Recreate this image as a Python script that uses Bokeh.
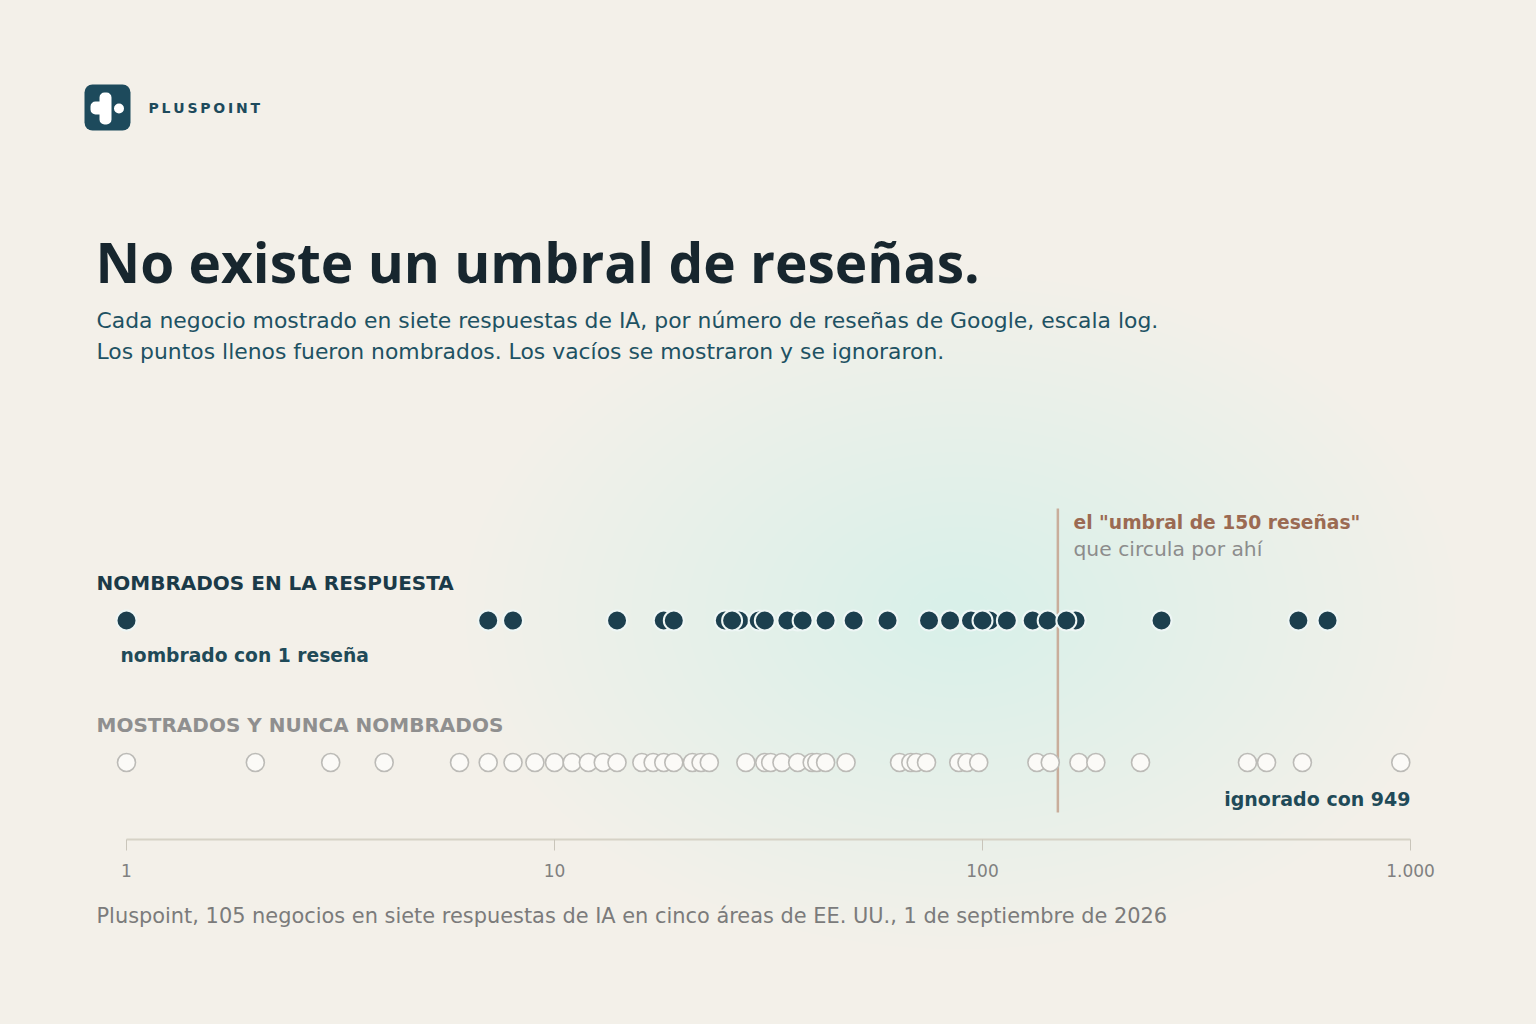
from bokeh.plotting import figure
from bokeh.models import Range1d, Label, FixedTicker, ColumnDataSource
from bokeh.embed import file_html
from bokeh.resources import INLINE

# ---------------- data ----------------
named_reviews = [1, 7, 8, 14, 18, 19, 25, 27, 26, 30, 31, 37, 35, 38, 43, 50, 60, 75, 84,
                 94, 104, 100, 114, 131, 142, 165, 157, 262, 547, 640]
ignored_reviews = [1, 2, 3, 4, 6, 7, 8, 9, 10, 11, 12, 13, 14, 16, 17, 18, 19, 21, 22, 23,
                   28, 31, 32, 34, 37, 40, 41, 43, 48, 64, 68, 70, 74, 88, 92, 98, 134, 144,
                   168, 184, 234, 416, 461, 559, 949]
threshold = 150
tick_values = [1, 10, 100, 1000]
tick_labels = ["1", "10", "100", "1.000"]
row_named = 1
row_ignored = 0

# ---------------- layout helpers (page pixels -> data) ----------------
OFF = 0
PX_ONE, PX_PER_DEC = 126, 428
ROW_NAMED_PX, ROW_IGN_PX = 620, 762
def xd(px):
    return 10 ** ((px - PX_ONE) / PX_PER_DEC)
def yd(py):
    return (ROW_IGN_PX - py) / (ROW_IGN_PX - ROW_NAMED_PX)

BG = "#f3f0e9"
TEAL = "#1c3f4e"
FONT = "DejaVu Sans"
TFONT = "Open Sans"

FW, FH = 1536, 970
p = figure(frame_width=FW, frame_height=FH, x_axis_type="log",
           x_range=Range1d(xd(OFF), xd(OFF + FW)), y_range=Range1d(yd(OFF + FH), yd(OFF)),
           output_backend="svg", toolbar_location=None, y_axis_location=None,
           min_border=0, background_fill_color=BG, border_fill_color=BG,
           outline_line_color=None)
p.grid.visible = False

# ---------------- glow ----------------
n = 26
gw = [960 * (1 - i / n) + 30 for i in range(n)]
gh = [w * 0.68 for w in gw]
glow = ColumnDataSource(dict(x=[xd(960)] * n, y=[yd(612)] * n, w=gw, h=gh))
p.ellipse(x="x", y="y", width="w", height="h", width_units="screen", height_units="screen",
          source=glow, fill_color="#c4e0e0", fill_alpha=0.016, line_color=None)

# ---------------- axis ----------------
ax = p.xaxis[0]
ax.fixed_location = yd(839)
ax.bounds = (tick_values[0], tick_values[-1])
ax.ticker = FixedTicker(ticks=tick_values, minor_ticks=[])
ax.major_label_overrides = dict(zip(tick_values, tick_labels))
ax.axis_line_color = "#d6d2c6"
ax.axis_line_width = 2
ax.major_tick_line_color = "#c9c5ba"
ax.major_tick_line_width = 1
ax.major_tick_in = 0
ax.major_tick_out = 11
ax.minor_tick_line_color = None
ax.major_label_text_color = "#808080"
ax.major_label_text_font = FONT
ax.major_label_text_font_size = "17px"
ax.major_label_standoff = 13

# ---------------- threshold ----------------
p.segment(x0=[threshold], x1=[threshold], y0=[yd(508)], y1=[yd(812)],
          line_color="#c9ad9b", line_width=2.5)

# ---------------- dots ----------------
p.scatter(x=ignored_reviews, y=[row_ignored] * len(ignored_reviews), size=18,
          fill_color="#fbfaf7", line_color="#bcbbb7", line_width=1.6)
p.scatter(x=named_reviews, y=[row_named] * len(named_reviews), size=20,
          fill_color=TEAL, line_color="#eef6f5", line_width=2)

# ---------------- logo ----------------
p.quad(left=[xd(84)], right=[xd(130)], bottom=[yd(130)], top=[yd(84)],
       fill_color="#1d4a5c", line_color=None, border_radius=8)
p.quad(left=[xd(99)], right=[xd(111)], bottom=[yd(124)], top=[yd(92)],
       fill_color="white", line_color=None, border_radius=5)
p.quad(left=[xd(90)], right=[xd(106)], bottom=[yd(114)], top=[yd(101)],
       fill_color="white", line_color=None, border_radius=5)
p.scatter(x=[xd(118.5)], y=[yd(108)], size=10, fill_color="white", line_color=None)

# ---------------- texts ----------------
def lab(text, px, base, size, color, bold=False, align="left", font=FONT, k=0.36):
    p.add_layout(Label(x=xd(px), y=yd(base - k * size), text=text, text_font=font,
                       text_font_size=f"{size}px", text_color=color,
                       text_font_style="bold" if bold else "normal",
                       text_align=align, text_baseline="middle"))

lab("\u2009".join("PLUSPOINT"), 148, 113, 14, "#1d4a5c", bold=True)
lab("No existe un umbral de reseñas.", 95, 282, 55, "#17262e", bold=True, font=TFONT, k=0.39)
lab("Cada negocio mostrado en siete respuestas de IA, por número de reseñas de Google, escala log.",
    96, 328, 21.9, "#1e5263")
lab("Los puntos llenos fueron nombrados. Los vacíos se mostraron y se ignoraron.",
    96, 359, 21.9, "#1e5263")
lab("NOMBRADOS EN LA RESPUESTA", 96, 590, 20, "#1b3a48", bold=True)
lab("nombrado con 1 reseña", 120, 662, 18.7, "#1f4a58", bold=True)
lab("MOSTRADOS Y NUNCA NOMBRADOS", 96, 732, 20, "#8f8f8f", bold=True)
lab("ignorado con 949", 1410, 805, 19, "#1f4a58", bold=True, align="right")
lab('el "umbral de 150 reseñas"', 1073, 529, 18.7, "#9b6a52", bold=True)
lab("que circula por ahí", 1073, 556, 20.3, "#8c8c8c")
lab("Pluspoint, 105 negocios en siete respuestas de IA en cinco áreas de EE. UU., 1 de septiembre de 2026",
    96, 923, 20.9, "#7b7b7b")

html = file_html(p, INLINE)
html = html.replace("<head>", "<head><style>body{background:%s;}</style>" % BG, 1)
open("out.html", "w").write(html)
